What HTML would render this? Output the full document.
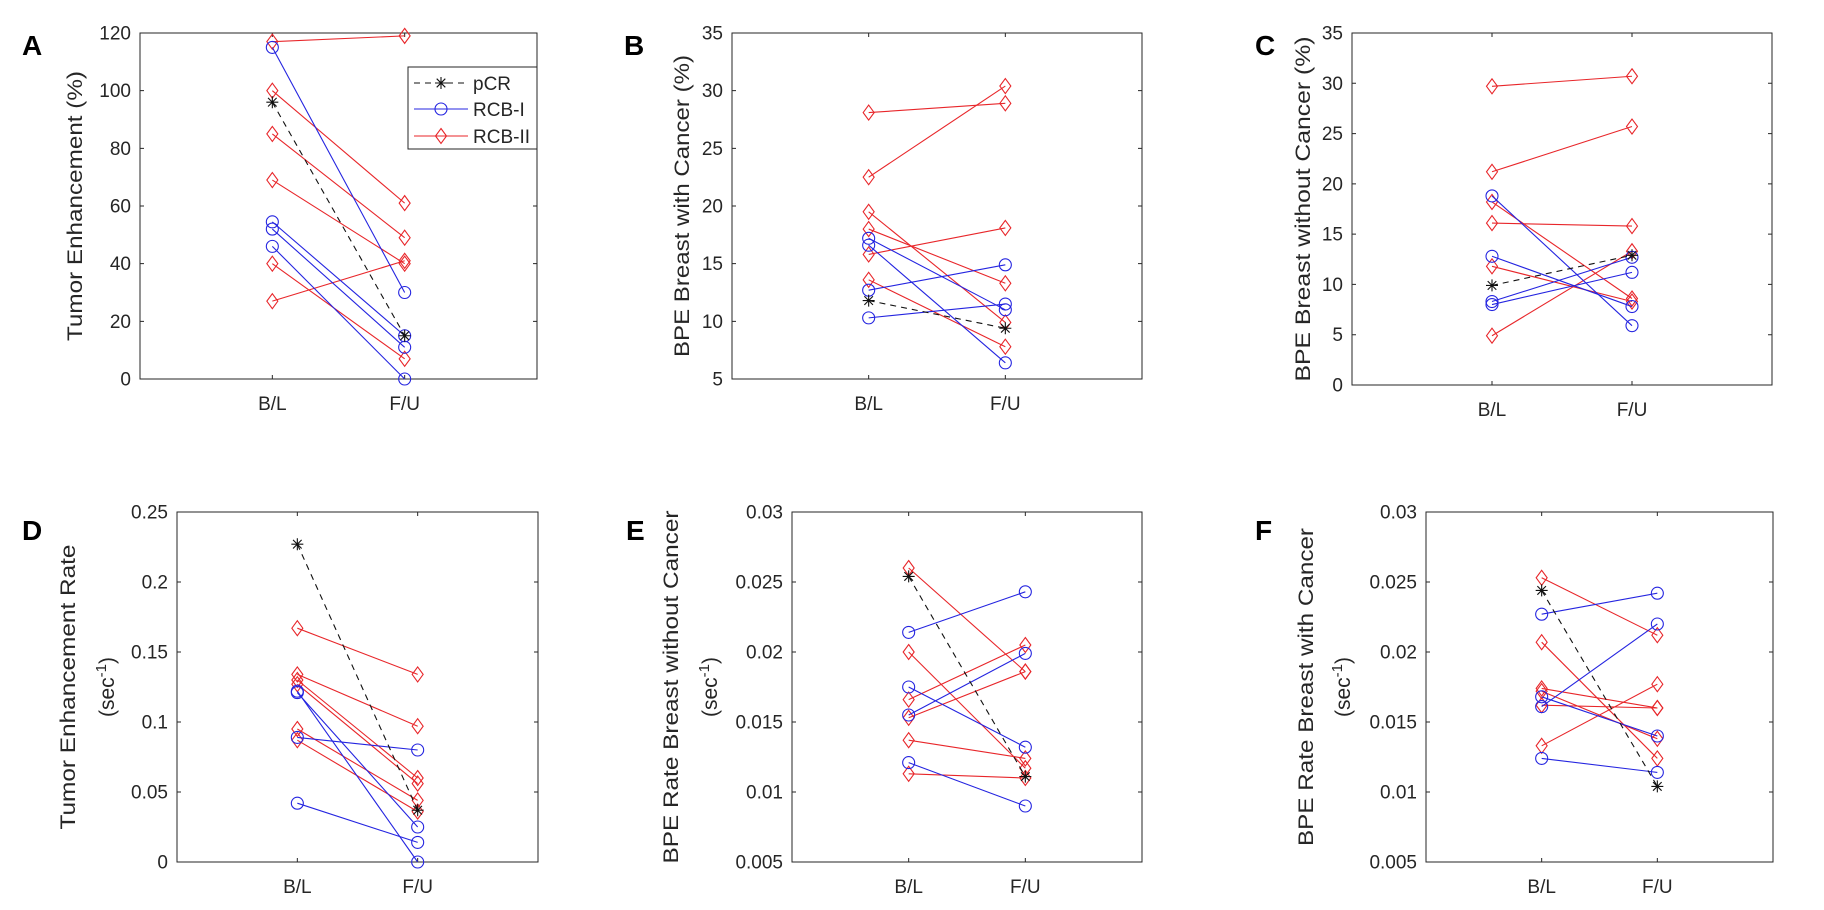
<!DOCTYPE html>
<html><head><meta charset="utf-8"><style>
html,body{margin:0;padding:0;background:#fff;}
svg{display:block;font-family:"Liberation Sans",Arial,sans-serif;}
</style></head><body>
<svg id="fig" width="1824" height="910" viewBox="0 0 1824 910" xmlns="http://www.w3.org/2000/svg">
<rect x="0" y="0" width="1824" height="910" fill="#fff"/>
</svg>
<script>
// ---- data (B/L, F/U) ----
const categories = ["B/L","F/U"];
// Panel A
const aTicks = [0,20,40,60,80,100,120];
const aPcr = [[96,15]];
const aRcb1 = [[115,30],[54.5,15],[52,11],[46,0]];
const aRcb2 = [[117,119],[100,61],[85,49],[69,40],[40,7],[27,41]];
// Panel B
const bTicks = [5,10,15,20,25,30,35];
const bPcr = [[11.8,9.4]];
const bRcb1 = [[17.2,11.0],[16.6,6.4],[12.7,14.9],[10.3,11.5]];
const bRcb2 = [[28.1,28.9],[22.5,30.4],[19.5,9.9],[18.0,13.3],[15.8,18.1],[13.6,7.8]];
// Panel C
const cTicks = [0,5,10,15,20,25,30,35];
const cPcr = [[9.9,12.9]];
const cRcb1 = [[18.8,5.9],[12.8,7.8],[8.3,12.7],[8.0,11.2]];
const cRcb2 = [[29.7,30.7],[21.2,25.7],[18.2,8.6],[16.1,15.8],[11.8,8.3],[4.9,13.3]];
// Panel D
const dTicks = [0,0.05,0.1,0.15,0.2,0.25];
const dPcr = [[0.227,0.037]];
const dRcb1 = [[0.122,0.0],[0.121,0.025],[0.089,0.080],[0.042,0.014]];
const dRcb2 = [[0.167,0.134],[0.134,0.097],[0.130,0.060],[0.127,0.056],[0.095,0.044],[0.087,0.036]];
// Panel E
const eTicks = [0.005,0.01,0.015,0.02,0.025,0.03];
const ePcr = [[0.0254,0.0111]];
const eRcb1 = [[0.0214,0.0243],[0.0175,0.0132],[0.0155,0.0199],[0.0121,0.0090]];
const eRcb2 = [[0.0260,0.0186],[0.0200,0.0117],[0.0166,0.0205],[0.0153,0.0186],[0.0137,0.0124],[0.0113,0.0110]];
// Panel F
const fTicks = [0.005,0.01,0.015,0.02,0.025,0.03];
const fPcr = [[0.0244,0.0104]];
const fRcb1 = [[0.0227,0.0242],[0.0168,0.0140],[0.0161,0.0220],[0.0124,0.0114]];
const fRcb2 = [[0.0253,0.0212],[0.0207,0.0124],[0.0174,0.0160],[0.0172,0.0138],[0.0162,0.0160],[0.0133,0.0177]];

const NS="http://www.w3.org/2000/svg";
const svg=document.getElementById('fig');
function mk(tag,attrs,parent){const e=document.createElementNS(NS,tag);for(const k in attrs)e.setAttribute(k,attrs[k]);(parent||svg).appendChild(e);return e;}
const AX="#262626";

function marker(g,type,x,y,color){
  let m;
  if(type==='o'){m=mk('circle',{cx:x,cy:y,r:6,fill:'none',stroke:color,'stroke-width':1.1},g);}
  else if(type==='d'){m=mk('path',{d:`M${x} ${y-7.5}L${x+5.5} ${y}L${x} ${y+7.5}L${x-5.5} ${y}Z`,fill:'none',stroke:color,'stroke-width':1.1},g);}
  else {m=mk('path',{d:`M${x-6} ${y}H${x+6}M${x} ${y-6}V${y+6}M${x-4.3} ${y-4.3}L${x+4.3} ${y+4.3}M${x-4.3} ${y+4.3}L${x+4.3} ${y-4.3}`,fill:'none',stroke:color,'stroke-width':1.1},g);}
  
  
}

function panel(p){
  const g=mk('g',{});
  
  
  const ymin=p.ticks[0], ymax=p.ticks[p.ticks.length-1];
  const sx=i=>p.l+(p.r-p.l)*(i+1)/3;
  const sy=v=>p.b-(v-ymin)/(ymax-ymin)*(p.b-p.t);
  const box=mk('rect',{x:p.l,y:p.t,width:p.r-p.l,height:p.b-p.t,fill:'none',stroke:AX,'stroke-width':1},g);
  
  
  p.ticks.forEach(v=>{
    const y=sy(v);
    mk('path',{d:`M${p.l} ${y}h4M${p.r} ${y}h-4`,stroke:AX,'stroke-width':1},g);
    const t=mk('text',{x:p.l-9,y:y+6.5,'text-anchor':'end','font-size':19,fill:AX},g);
    
    
    t.textContent=String(v);
  });
  categories.forEach((c,i)=>{
    const x=sx(i);
    mk('path',{d:`M${x} ${p.b}v-4M${x} ${p.t}v4`,stroke:AX,'stroke-width':1},g);
    const t=mk('text',{x:x,y:p.b+31,'text-anchor':'middle','font-size':19,fill:AX},g);
    
    
    t.textContent=c;
  });
  const series=[[p.rcb2,'#e8262a','d',null],[p.rcb1,'#2424e0','o',null],[p.pcr,'#111','*','6,5']];
  series.forEach(([data,col,mt,dash])=>{
    data.forEach(d=>{
      const ln=mk('line',{x1:sx(0),y1:sy(d[0]),x2:sx(1),y2:sy(d[1]),stroke:col,'stroke-width':1.1},g);
      if(dash)ln.setAttribute('stroke-dasharray',dash);
      
      
      marker(g,mt,sx(0),sy(d[0]),col);
      marker(g,mt,sx(1),sy(d[1]),col);
    });
  });
  // y title
  const cy=(p.t+p.b)/2;
  p.title.forEach((tl,k)=>{
    const t=mk('text',{x:0,y:0,transform:`translate(${tl[0]},${cy}) rotate(-90)`,'text-anchor':'middle','font-size':21,fill:AX},g);
    
    
    if(tl[2]){t.setAttribute('textLength',tl[2]);t.setAttribute('lengthAdjust','spacingAndGlyphs');}
    if(tl[1]==='sec'){
      t.innerHTML='(sec<tspan dy="-8" font-size="15">-1</tspan><tspan dy="8">)</tspan>';
    } else t.textContent=tl[1];
  });
  const L=mk('text',{x:p.lx,y:p.ly,'font-size':28,'font-weight':'bold',fill:'#000'},g);
  
  
  L.textContent=p.letter;
}

panel({letter:'A',l:140,r:537,t:33,b:379,ticks:aTicks,pcr:aPcr,rcb1:aRcb1,rcb2:aRcb2,title:[[82,'Tumor Enhancement (%)',270]],lx:22,ly:55});
panel({letter:'B',l:732,r:1142,t:33,b:379,ticks:bTicks,pcr:bPcr,rcb1:bRcb1,rcb2:bRcb2,title:[[689,'BPE Breast with Cancer (%)',302]],lx:624,ly:55});
panel({letter:'C',l:1352,r:1772,t:33,b:385,ticks:cTicks,pcr:cPcr,rcb1:cRcb1,rcb2:cRcb2,title:[[1310,'BPE Breast without Cancer (%)',345]],lx:1255,ly:55});
panel({letter:'D',l:177,r:538,t:512,b:862,ticks:dTicks,pcr:dPcr,rcb1:dRcb1,rcb2:dRcb2,title:[[75,'Tumor Enhancement Rate',285],[114,'sec']],lx:22,ly:540});
panel({letter:'E',l:792,r:1142,t:512,b:862,ticks:eTicks,pcr:ePcr,rcb1:eRcb1,rcb2:eRcb2,title:[[678,'BPE Rate Breast without Cancer',353],[717,'sec']],lx:626,ly:540});
panel({letter:'F',l:1426,r:1773,t:512,b:862,ticks:fTicks,pcr:fPcr,rcb1:fRcb1,rcb2:fRcb2,title:[[1313,'BPE Rate Breast with Cancer',318],[1350,'sec']],lx:1255,ly:540});

// legend in panel A
const lg=mk('g',{});


mk('rect',{x:408,y:67,width:129,height:82,fill:'#fff',stroke:AX,'stroke-width':1},lg);
const legItems=[['pCR','#111','*','6,5',83],['RCB-I','#2424e0','o',null,109],['RCB-II','#e8262a','d',null,136]];
legItems.forEach(([lab,col,mt,dash,y])=>{
  const ln=mk('line',{x1:414,y1:y,x2:468,y2:y,stroke:col,'stroke-width':1.1},lg);
  if(dash)ln.setAttribute('stroke-dasharray',dash);
  
  
  marker(lg,mt,441,y,col);
  const t=mk('text',{x:473,y:y+7,'font-size':19,fill:AX},lg);
  
  
  t.textContent=lab;
});
</script>
</body></html>
